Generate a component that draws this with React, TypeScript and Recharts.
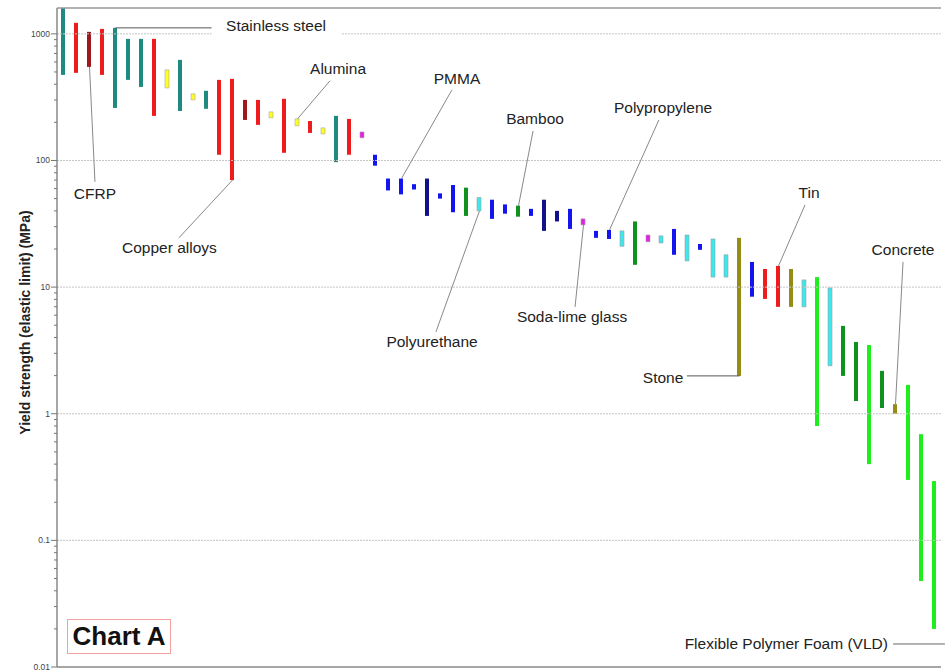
import { BarChart, Bar, Cell, XAxis, YAxis, ReferenceLine, ReferenceDot } from "recharts";

const FONT = '"Liberation Sans", Arial, Helvetica, sans-serif';

// colour family of each material bar, left to right
const families = [
  "teal", "red", "darkred", "red", "teal", "teal", "teal", "red", "yellow", "teal",
  "yellow", "teal", "red", "red", "darkred", "red", "yellow", "red", "yellow", "red",
  "yellow", "teal", "red", "magenta", "blue", "blue", "blue", "blue", "navy", "blue",
  "blue", "green", "cyan", "blue", "blue", "green", "blue", "navy", "navy", "blue",
  "magenta", "blue", "blue", "cyan", "green", "magenta", "cyan", "blue", "cyan", "blue",
  "cyan", "cyan", "olive", "blue", "red", "red", "olive", "cyan", "lime", "cyan",
  "green", "green", "lime", "green", "olive", "lime", "lime", "lime",
];

// yield strength range (MPa)
const lows = [
  474, 492, 548, 474, 260, 433, 381, 225, 374, 246,
  301, 256, 111, 70, 209, 191, 217, 115, 188, 165,
  162, 97, 111, 151, 91, 58, 54, 59, 36.5, 50,
  39, 36.5, 40, 34.6, 38, 36, 36.5, 27.8, 33, 28.8,
  31, 24.5, 24, 21, 15, 22.8, 22.3, 18, 16.1, 19.7,
  12, 12, 1.99, 8.4, 8.07, 6.98, 6.98, 6.98, 0.8, 2.39,
  1.99, 1.26, 0.4, 1.11, 1.0, 0.3, 0.0478, 0.02,
];
const highs = [
  1700, 1222, 1037, 1094, 1115, 913, 913, 913, 520, 623,
  336, 355, 433, 441, 301, 301, 242, 307, 213, 205,
  181, 225, 213, 168, 111, 72, 72, 65, 72, 55,
  64, 61, 51, 49, 45, 44, 41.5, 49, 40, 41.5,
  34.6, 27.8, 28.3, 27.8, 33, 25.8, 25.4, 28.8, 25.8, 21.9,
  24, 18, 24.5, 15.8, 13.9, 14.7, 13.9, 11.4, 12, 9.86,
  4.94, 3.69, 3.49, 2.18, 1.19, 1.69, 0.69, 0.294,
];

const majorTicks = [0.01, 0.1, 1, 10, 100, 1000];
const minorSteps = [2, 3, 4, 5, 6, 7, 8, 9];

const PALETTE: Record<string, { fill: string; stroke?: string }> = {
  teal: { fill: "#1F8B80" },
  red: { fill: "#EE1C1C" },
  darkred: { fill: "#A0181C" },
  yellow: { fill: "#FFFF20", stroke: "#A8A8A8" },
  blue: { fill: "#1414EE" },
  navy: { fill: "#10108A" },
  green: { fill: "#10901C" },
  cyan: { fill: "#3CE8EE", stroke: "#A0A0A0" },
  magenta: { fill: "#E61EE6", stroke: "#A0A0A0" },
  olive: { fill: "#948C14" },
  lime: { fill: "#1EEE1E" },
};

// labelled materials: bar number, which end the leader starts from, leader end and text centre (index, MPa)
const notes = [
  { text: "Stainless steel", bar: 5, end: "hi", to: [13.19, 1115], at: [17.35, 1156], bg: true, dark: true },
  { text: "CFRP", bar: 3, end: "lo", to: [3.42, 67.8], at: [3.42, 54.5] },
  { text: "Copper alloys", bar: 14, end: "lo", to: [9.88, 24.5], at: [9.15, 20.4] },
  { text: "Alumina", bar: 19, end: "hi", to: [21.5, 426], at: [22.12, 530] },
  { text: "PMMA", bar: 27, end: "hi", to: [30.88, 361], at: [31.27, 441] },
  { text: "Polyurethane", bar: 33, end: "lo", to: [29.65, 4.43], at: [29.35, 3.69] },
  { text: "Bamboo", bar: 36, end: "hi", to: [37.12, 171], at: [37.27, 213] },
  { text: "Soda-lime glass", bar: 41, end: "lo", to: [40.35, 6.98], at: [40.12, 5.82] },
  { text: "Polypropylene", bar: 43, end: "hi", to: [46.8, 209], at: [47.12, 260] },
  { text: "Stone", bar: 53, end: "lo", to: [48.96, 1.99], at: [47.12, 1.92], dark: true },
  { text: "Tin", bar: 56, end: "hi", to: [58.04, 44.6], at: [58.35, 55.5] },
  { text: "Concrete", bar: 65, end: "hi", to: [65.58, 15.8], at: [65.58, 19.7] },
];
// this one points off the right edge
const foamNote = { text: "Flexible Polymer Foam (VLD)", from: [68.8, 0.0152], to: [64.81, 0.0152], at: [56.6, 0.0152] };

const data = families.map((f, i) => ({ idx: i + 1, family: f, range: [lows[i], highs[i]] }));
const allTicks = [...majorTicks, ...majorTicks.slice(0, -1).flatMap((t) => minorSteps.map((m) => +(t * m).toPrecision(3)))];

const LogTick = (props: any) => {
  const { x, y, payload } = props;
  const v = payload.value;
  const major = majorTicks.includes(v);
  return (
    <g>
      <line x1={x - (major ? 6 : 3)} x2={x} y1={y} y2={y} stroke="#777" strokeWidth={1} />
      {major && (
        <text x={x - 7} y={y} dy="0.35em" textAnchor="end" fontSize={8.5} fill="#444" fontFamily={FONT}>
          {String(v)}
        </text>
      )}
    </g>
  );
};

const noteLabel = (text: string, bg?: boolean) => (props: any) => {
  const vb = props.viewBox;
  const cx = vb.x + vb.width / 2;
  const cy = vb.y + vb.height / 2;
  const w = text.length * 8.2;
  return (
    <g>
      {bg && <rect x={cx - w / 2 - 3} y={cy - 10} width={w + 6} height={20} fill="#fff" />}
      <text x={cx} y={cy} dy="0.35em" textAnchor="middle" fontSize={15.5} fill="#222" fontFamily={FONT}>
        {text}
      </text>
    </g>
  );
};

const axisTitle = (props: any) => {
  const vb = props.viewBox;
  const cx = vb.x + 25;
  const cy = vb.y + vb.height / 2 - 15;
  return (
    <text x={cx} y={cy} transform={`rotate(-90, ${cx}, ${cy})`} dy="0.35em" textAnchor="middle"
      fontSize={14} fontWeight="bold" fill="#222" fontFamily={FONT}>
      Yield strength (elastic limit) (MPa)
    </text>
  );
};

export default function App() {
  return (
    <div style={{ position: "absolute", left: 0, top: 0, width: 945, height: 671, background: "#fff" }}>
      <BarChart width={945} height={671} data={data} margin={{ top: 8, right: 4, bottom: 0, left: 0 }}>
        <XAxis type="number" dataKey="idx" domain={[0.5, 68.5]} allowDataOverflow ticks={[]} tick={false}
          tickLine={false} height={4} axisLine={{ stroke: "#888", strokeWidth: 1.5 }} />
        <YAxis scale="log" domain={[0.01, 1600]} allowDataOverflow ticks={allTicks} interval={0}
          tickSize={0} tickMargin={0} tickLine={false} tick={LogTick} width={57}
          axisLine={{ stroke: "#888", strokeWidth: 1.5 }} label={{ content: axisTitle }} />
        {majorTicks.slice(1).map((t) => (
          <ReferenceLine key={t} y={t} stroke="#C4C4C4" strokeDasharray="2 1" />
        ))}
        <ReferenceLine y={1600} stroke="#999" strokeWidth={1.5} />
        <Bar dataKey="range" barSize={4} isAnimationActive={false}>
          {data.map((d) => {
            const c = PALETTE[d.family];
            return <Cell key={d.idx} fill={c.fill} stroke={c.stroke ?? "none"} strokeWidth={c.stroke ? 0.6 : 0} />;
          })}
        </Bar>
        {notes.map((n) => (
          <ReferenceLine key={n.text + "-l"} ifOverflow="visible"
            stroke={n.dark ? "#555" : "#888"} strokeWidth={1}
            segment={[{ x: n.bar, y: n.end === "hi" ? highs[n.bar - 1] : lows[n.bar - 1] }, { x: n.to[0], y: n.to[1] }]} />
        ))}
        <ReferenceLine ifOverflow="visible" stroke="#666" strokeWidth={1}
          segment={[{ x: foamNote.from[0], y: foamNote.from[1] }, { x: foamNote.to[0], y: foamNote.to[1] }]} />
        {notes.map((n) => (
          <ReferenceDot key={n.text} x={n.at[0]} y={n.at[1]} r={0} fill="none" stroke="none"
            label={{ content: noteLabel(n.text, n.bg) }} />
        ))}
        <ReferenceDot x={foamNote.at[0]} y={foamNote.at[1]} r={0} fill="none" stroke="none"
          label={{ content: noteLabel(foamNote.text) }} />
      </BarChart>
      <div style={{ position: "absolute", left: 67, top: 619, width: 102, height: 33, border: "1px solid #F2A0A0",
        fontFamily: FONT, fontWeight: "bold", fontSize: 26, lineHeight: "33px", textAlign: "center", color: "#111" }}>
        Chart A
      </div>
    </div>
  );
}
